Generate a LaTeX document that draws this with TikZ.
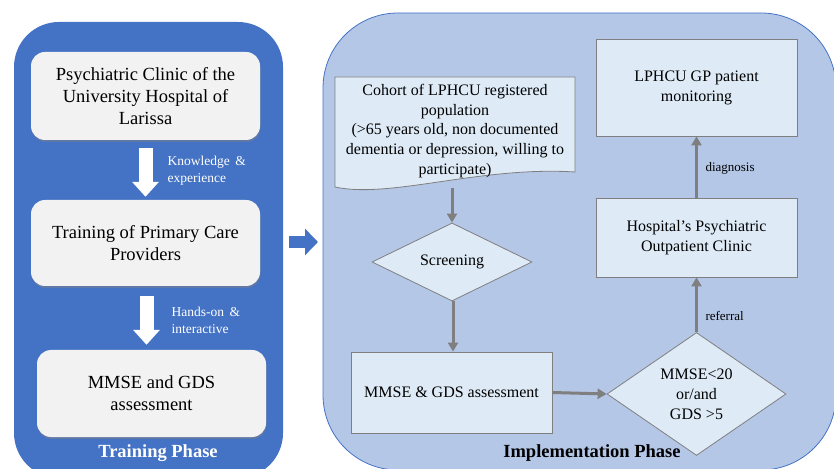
\documentclass[tikz,border=0pt]{standalone}
\usepackage{fontspec}
\setmainfont{Liberation Serif}
\usetikzlibrary{shapes.geometric, arrows.meta, shadows}

\definecolor{panelblue}{HTML}{4472C4}
\definecolor{panellight}{HTML}{B4C7E7}
\definecolor{boxlight}{HTML}{DEEBF7}
\definecolor{boxgrey}{HTML}{F2F2F2}
\definecolor{linegrey}{HTML}{7F7F7F}

\begin{document}
\begin{tikzpicture}[x=1pt, y=1pt,
    trainbox/.style={draw=none, fill=boxgrey, rounded corners=14pt, minimum width=229pt,
        align=center, font=\fontsize{18.5}{22}\selectfont,
        drop shadow={shadow xshift=0.5pt, shadow yshift=-2pt, opacity=0.45}},
    flowbox/.style={draw=linegrey, fill=boxlight, line width=0.8pt, minimum width=201pt,
        align=center, font=\fontsize{16}{20}\selectfont},
    decision/.style={diamond, draw=linegrey, fill=boxlight, line width=0.8pt, inner sep=0pt,
        align=center, font=\fontsize{16}{20}\selectfont},
    flowarrow/.style={draw=linegrey, line width=3pt, -{Triangle[width=10pt, length=9pt]}},
    whitearrow/.style={draw=white, line width=14pt, -{Triangle[width=26pt, length=15pt]}},
    smalllabel/.style={align=left, anchor=west, font=\fontsize{13.5}{17}\selectfont},
    phaselabel/.style={font=\fontsize{18.5}{22}\selectfont\bfseries}
]

    \useasboundingbox (0, 0) rectangle (834, 468);
    \clip (0, 0) rectangle (834, 468);

    %% Training phase

    % Panel
    \fill[panelblue, rounded corners=45pt] (14, -10) rectangle (283, 446);

    % Boxes
    \node[trainbox, minimum height=88pt] (clinic) at (145.5, 372) {Psychiatric Clinic of the\\University Hospital of\\Larissa};
    \node[trainbox, minimum height=86pt] (training) at (145.5, 225) {Training of Primary Care\\Providers};
    \node[trainbox, minimum height=87pt] (trainassess) at (151.5, 74.5) {MMSE and GDS\\assessment};

    % Arrows
    \draw[whitearrow] ([yshift=-8pt]clinic.south) -- ([yshift=3pt]training.north);
    \draw[whitearrow] ([xshift=1pt, yshift=-10pt]training.south) -- ([xshift=-5pt, yshift=5pt]trainassess.north);
    \node[smalllabel, text=white] (knowledge) at (164, 297) {Knowledge \,\&\\experience};
    \node[smalllabel, text=white] (handson) at (168, 147.5) {Hands-on \,\&\\interactive};

    \node[phaselabel, text=white] (trainphase) at (158, 15) {Training Phase};

    % Arrow between phases
    \coordinate (gapstart) at (289, 226);
    \coordinate (gapend) at (318, 226);
    \draw[panelblue, line width=12pt, -{Triangle[width=26pt, length=13pt]}] (gapstart) -- (gapend);

    %% Implementation phase

    % Panel
    \draw[draw=panelblue, fill=panellight, line width=0.8pt, rounded corners=75pt] (323, -2) rectangle (836, 455);

    % Cohort document
    \draw[draw=linegrey, fill=boxlight, line width=0.8pt]
        (335, 281) -- (335, 391) -- (575, 391) -- (575, 296)
        .. controls (480, 302) and (390, 269) .. (335, 281);
    \node[align=center, font=\fontsize{16}{19.8}\selectfont] (cohort) at (455, 337)
        {Cohort of LPHCU registered\\population\\ (>65 years old, non documented\\dementia or depression, willing to\\participate)};
    \coordinate (cohortbottom) at (452, 280);

    % Screening and assessment
    \node[decision, minimum width=160pt, minimum height=66pt] (screening) at (452, 206) {Screening};
    \node[flowbox, minimum height=81pt] (assess) at (451.5, 75.5) {MMSE \& GDS assessment};
    \node[decision, minimum width=179pt, minimum height=108pt] (criteria) at (696.5, 74) {MMSE<20\\or/and\\GDS >5};

    % Clinic and monitoring
    \node[flowbox, minimum height=79pt] (outpatient) at (696.5, 230.5) {Hospital’s Psychiatric\\Outpatient Clinic};
    \node[flowbox, minimum height=97pt] (monitoring) at (696.5, 380.5) {LPHCU GP patient\\monitoring};

    % Connectors
    \draw[flowarrow] (cohortbottom) -- (screening.north);
    \draw[flowarrow] ([xshift=1pt]screening.south) -- ([xshift=1.5pt]assess.north);
    \draw[flowarrow] (assess.east) -- (criteria.west);
    \draw[flowarrow] (criteria.north) -- (outpatient.south);
    \draw[flowarrow] (outpatient.north) -- (monitoring.south);
    \node[smalllabel, font=\fontsize{13}{16}\selectfont] (referral) at (702, 152) {referral};
    \node[smalllabel, font=\fontsize{13}{16}\selectfont] (diagnosis) at (702, 300) {diagnosis};

    \node[phaselabel] (implphase) at (592, 15) {Implementation Phase};

\end{tikzpicture}
\end{document}
